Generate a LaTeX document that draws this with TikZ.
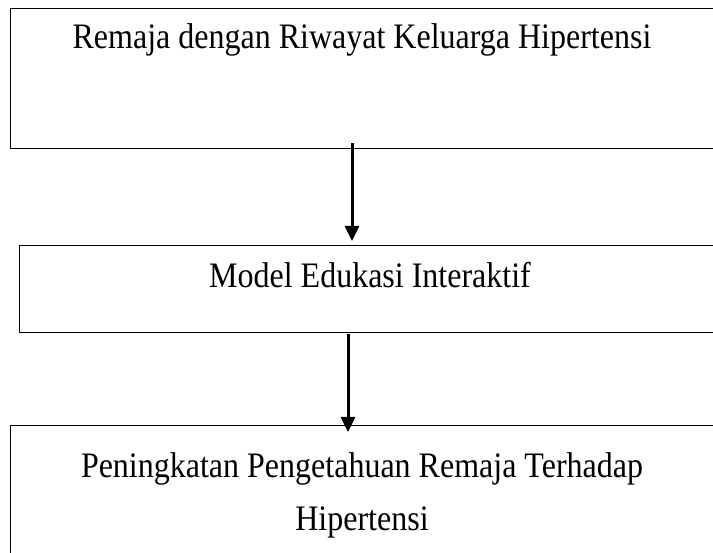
\documentclass[tikz,border=0pt]{standalone}
\usepackage{fontspec}
\usepackage{graphicx}
\setmainfont{Liberation Serif}
\usetikzlibrary{arrows.meta}
\newcommand{\tallt}[1]{\scalebox{1}[1.12]{#1}}
\begin{document}
\begin{tikzpicture}[x=1pt,y=-1pt,
  boxstyle/.style={draw=black,line width=1.2pt,rectangle,inner sep=0pt,anchor=north west},
  txt/.style={font=\fontsize{32}{38}\selectfont,anchor=base,inner sep=0pt},
  arr/.style={line width=3pt,-{Triangle[width=14pt,length=15pt]}}]
\useasboundingbox (0,0) rectangle (713,553);
\fill[white] (0,0) rectangle (713,553);
% boxes
\node[boxstyle,minimum width=703.5pt,minimum height=140pt] (box1) at (10,8) {};
\node[boxstyle,minimum width=710pt,minimum height=87pt] (box2) at (19,245) {};
\node[boxstyle,minimum width=703.5pt,minimum height=160pt] (box3) at (10,425) {};
% texts
\node[txt] (t1) at (362,49) {\tallt{Remaja dengan Riwayat Keluarga Hipertensi}};
\node[txt] (t2) at (370,288) {\tallt{Model Edukasi Interaktif}};
\node[txt] (t3a) at (362,478) {\tallt{Peningkatan Pengetahuan Remaja Terhadap}};
\node[txt] (t3b) at (362,530) {\tallt{Hipertensi}};
% arrows
\coordinate (a1s) at (352,143);
\coordinate (a1e) at (352,241);
\coordinate (a2s) at (348,334);
\coordinate (a2e) at (348,432);
\draw[arr] (a1s) -- (a1e);
\draw[arr] (a2s) -- (a2e);
\end{tikzpicture}
\end{document}
